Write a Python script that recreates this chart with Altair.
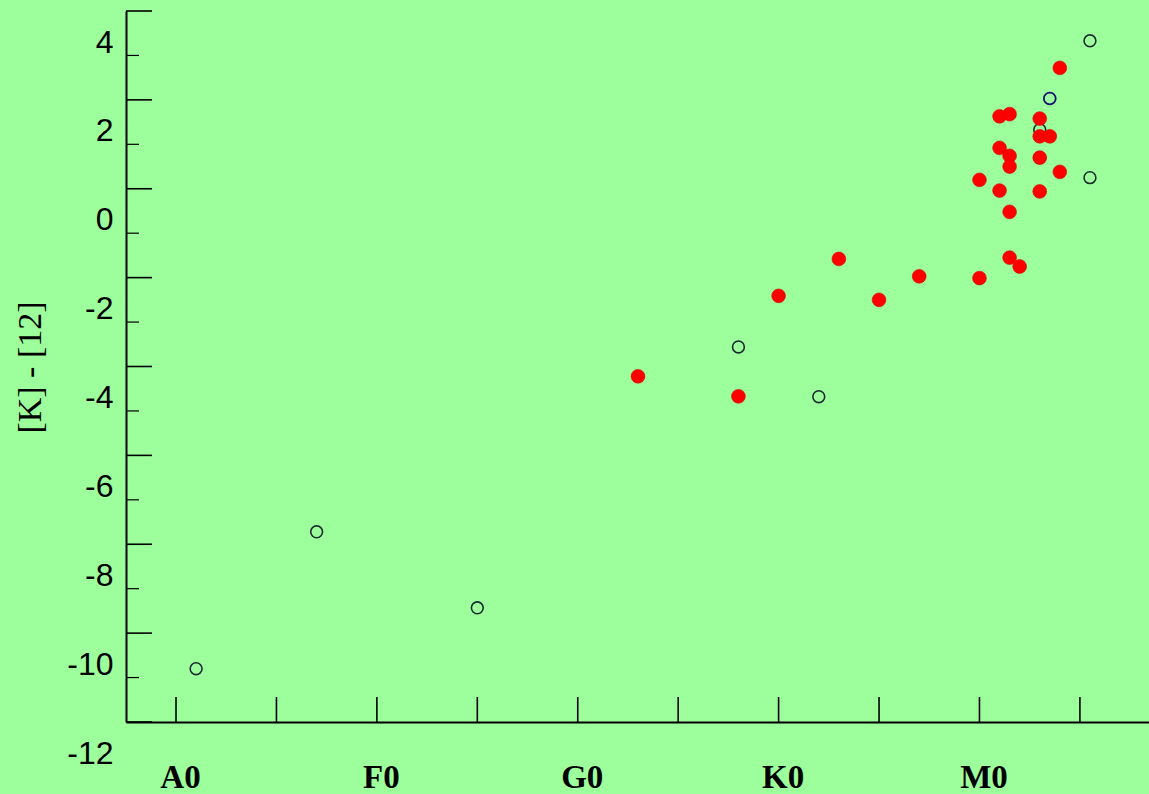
import altair as alt
import pandas as pd

# spectral type coded numerically: A0=0, F0=10, G0=20, K0=30, M0=40
red_sp = [44, 41, 41.5, 43, 43, 43.5, 41, 41.5, 41.5, 43, 44, 40, 41, 43, 41.5, 41.5, 42, 40, 33, 37, 30, 35, 23, 28]
red_k12 = [2.72, 1.63, 1.68, 1.58, 1.18, 1.18, 0.92, 0.74, 0.50, 0.70, 0.38, 0.20, -0.04, -0.06, -0.52, -1.55, -1.75, -2.01, -1.58, -1.97, -2.41, -2.50, -4.22, -4.67]

open_sp = [1, 7, 15, 28, 32, 45.5, 45.5, 43, 43]
open_k12 = [-10.8, -7.72, -9.43, -3.56, -4.68, 3.33, 0.25, 1.33, 0.70]

navy_sp = [43.5]
navy_k12 = [2.03]

x_label_vals = [0, 10, 20, 30, 40]
x_label_text = ["A0", "F0", "G0", "K0", "M0"]
x_ticks = [0, 5, 10, 15, 20, 25, 30, 35, 40, 45]
y_major = [-12, -10, -8, -6, -4, -2, 0, 2, 4]
y_minor = [-11, -9, -7, -5, -3, -1, 1, 3]

W, H = 1023, 711
BG = "#9cff9c"

xs = alt.Scale(domain=[-2.49, 48.44], nice=False, zero=False)
ys = alt.Scale(domain=[-12, 4], nice=False, zero=False)

label_map = "{" + ", ".join(f"'{v}': '{t}'" for v, t in zip(x_label_vals, x_label_text)) + "}"

xaxis = alt.Axis(values=x_label_vals, labelExpr=f"{label_map}[datum.value + '']",
                 ticks=False, grid=False, domainColor="black", domainWidth=2,
                 labelFont="Liberation Serif", labelFontWeight="bold", labelFontSize=33,
                 labelColor="black", labelPadding=39, labelOffset=4, title=None,
                 labelFlush=False, labelOverlap=False)
yaxis = alt.Axis(values=y_major, ticks=False, grid=False, domainColor="black", domainWidth=2,
                 labelExpr="datum.value < 0 ? '-' + abs(datum.value) : '' + datum.value",
                 labelFont="Liberation Sans", labelFontSize=32, labelColor="black",
                 labelPadding=13, labelOffset=31, labelFlush=False, labelOverlap=False,
                 labelBound=False,
                 title="[K] - [12]", titleFont="Liberation Serif", titleFontSize=34,
                 titleFontWeight="normal", titleColor="black", titleX=-96, titleY=356,
                 titleBaseline="middle", titleAngle=270)

open_df = pd.DataFrame({"sp": open_sp, "k12": open_k12})
navy_df = pd.DataFrame({"sp": navy_sp, "k12": navy_k12})
red_df = pd.DataFrame({"sp": red_sp, "k12": red_k12})

base_axes = alt.Chart(pd.DataFrame({"sp": [0], "k12": [0]})).mark_point(opacity=0).encode(
    x=alt.X("sp:Q", scale=xs, axis=xaxis),
    y=alt.Y("k12:Q", scale=ys, axis=yaxis),
)

opens = alt.Chart(open_df).mark_point(shape="circle", size=140, strokeWidth=1.6, opacity=1,
                                      color="#1a2a30", filled=False).encode(
    x=alt.X("sp:Q", scale=xs), y=alt.Y("k12:Q", scale=ys))
navy = alt.Chart(navy_df).mark_point(shape="circle", size=140, strokeWidth=1.8, opacity=1,
                                     color="#101070", filled=False).encode(
    x=alt.X("sp:Q", scale=xs), y=alt.Y("k12:Q", scale=ys))
reds = alt.Chart(red_df).mark_point(shape="circle", size=190, filled=True, opacity=1,
                                    color="#ff0000", stroke="#e00000", strokeWidth=0.6).encode(
    x=alt.X("sp:Q", scale=xs), y=alt.Y("k12:Q", scale=ys))

xt = alt.Chart(pd.DataFrame({"v": x_ticks})).mark_rule(color="black", strokeWidth=1.6).encode(
    x=alt.X("v:Q", scale=xs), y=alt.value(H - 25), y2=alt.value(H))
ymaj = alt.Chart(pd.DataFrame({"v": y_major})).mark_rule(color="black", strokeWidth=1.6).encode(
    y=alt.Y("v:Q", scale=ys), x=alt.value(0), x2=alt.value(26))
ymin = alt.Chart(pd.DataFrame({"v": y_minor})).mark_rule(color="black", strokeWidth=1.2).encode(
    y=alt.Y("v:Q", scale=ys), x=alt.value(0), x2=alt.value(13))

chart = alt.layer(base_axes, xt, ymaj, ymin, opens, navy, reds).properties(
    width=W, height=H,
    autosize=alt.AutoSizeParams(type="none"),
    padding={"left": 126, "top": 11, "right": 0, "bottom": 72},
    background=BG,
).configure_view(stroke=None, fill=BG)

chart.save("out.html", embed_options={"renderer": "svg", "actions": False})
